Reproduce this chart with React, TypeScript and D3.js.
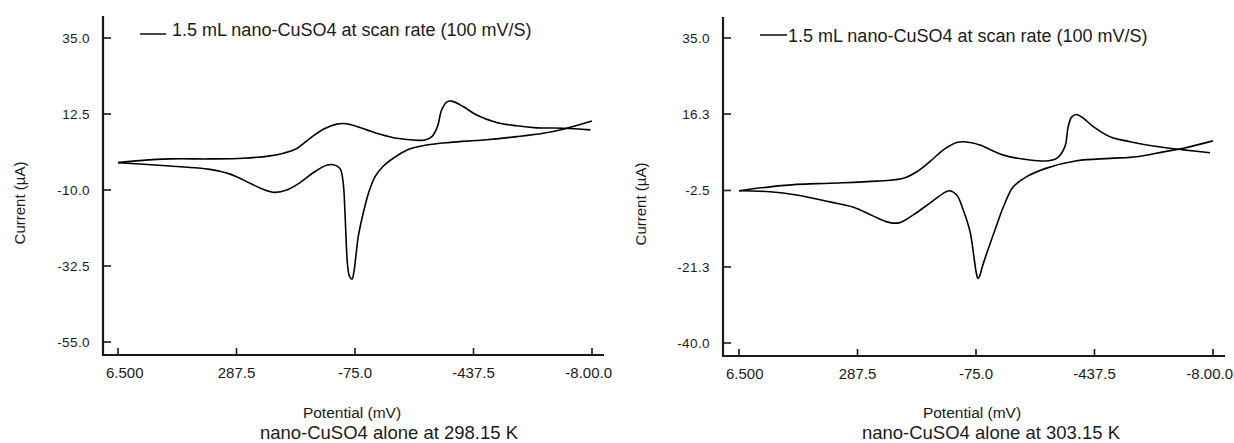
import React from "react";
import * as d3 from "d3";

// ---------- DATA ----------
const xTickValues = [650, 287.5, -75, -437.5, -800];
const xTickLabels = ["6.500", "287.5", "-75.0", "-437.5", "-8.00.0"];

const leftYTicks = [35, 12.5, -10, -32.5, -55];
const leftYTickLabels = ["35.0", "12.5", "-10.0", "-32.5", "-55.0"];
const rightYTicks = [35, 16.3, -2.5, -21.3, -40];
const rightYTickLabels = ["35.0", "16.3", "-2.5", "-21.3", "-40.0"];

// [potential (mV), current (µA)]
const leftCathodic: [number, number][] = [
  [650, -1.9], [583, -2.3], [491, -2.9], [369, -3.9], [307, -5.3], [246, -8.0],
  [206, -9.8], [170, -10.7], [134, -10.0], [93, -7.8], [53, -4.9], [12, -2.7],
  [-9, -2.5], [-29, -3.6], [-39, -8.0], [-44, -16], [-48, -25], [-52, -32],
  [-58, -35.5], [-66, -36.4], [-72, -34], [-76, -31], [-85, -23.8], [-100, -16.9],
  [-116, -11.0], [-136, -6.1], [-162, -2.9], [-192, -0.6], [-233, 1.8], [-294, 3.3],
  [-366, 4.1], [-468, 4.8], [-570, 5.8], [-651, 6.8], [-712, 8.0], [-800, 10.4],
];
const leftAnodic: [number, number][] = [
  [-795, 7.8], [-712, 8.3], [-631, 8.4], [-570, 9.0], [-508, 10.0], [-447, 12.2],
  [-406, 14.7], [-371, 16.3], [-356, 16.1], [-340, 13.7], [-327, 8.7], [-310, 5.8],
  [-289, 4.8], [-253, 4.8], [-203, 5.3], [-152, 6.5], [-111, 7.8], [-60, 9.4],
  [-39, 9.7], [-19, 9.5], [22, 8.0], [63, 5.3], [103, 2.3], [144, 0.9], [185, 0.1],
  [267, -0.6], [369, -0.8], [491, -0.8], [583, -1.3], [650, -1.9],
];
const rightCathodic: [number, number][] = [
  [650, -2.55], [555, -2.8], [474, -3.6], [372, -5.3], [300, -6.6], [239, -8.8],
  [188, -10.4], [158, -10.4], [117, -8.5], [66, -5.6], [25, -3.2], [7, -2.55],
  [-16, -3.6], [-36, -7.3], [-57, -12.7], [-69, -19], [-76, -22.8], [-81, -24.1],
  [-86, -23.6], [-93, -21.6], [-108, -17.9], [-133, -12.2], [-159, -6.5], [-189, -1.6],
  [-230, 0.9], [-291, 3.0], [-383, 4.8], [-485, 5.4], [-567, 5.8], [-648, 7.0],
  [-709, 7.9], [-800, 9.7],
];
const rightAnodic: [number, number][] = [
  [-791, 6.8], [-709, 7.5], [-628, 8.3], [-546, 9.5], [-485, 10.7], [-434, 13.2],
  [-403, 15.3], [-383, 16.2], [-368, 15.6], [-357, 13.2], [-347, 8.3], [-322, 5.4],
  [-296, 4.8], [-240, 5.0], [-159, 6.2], [-87, 8.7], [-57, 9.3], [-36, 9.5],
  [-16, 9.3], [25, 7.5], [66, 4.6], [106, 2.1], [147, 0.5], [229, -0.2],
  [372, -0.7], [474, -1.0], [555, -1.6], [650, -2.55],
];

const legendText = "1.5 mL nano-CuSO4 at scan rate (100 mV/S)";
const xAxisTitle = "Potential (mV)";
const yAxisTitle = "Current (µA)";
const leftTitle = "nano-CuSO4 alone at 298.15 K";
const rightTitle = "nano-CuSO4 alone at 303.15 K";

const FONT = "'Liberation Sans', Arial, Helvetica, sans-serif";
const INK = "#1a1a1a";

type PanelProps = {
  axisX: number; axisTop: number; axisBottom: number; axisRight: number;
  xR: [number, number];
  yDomain: [number, number]; yRange: [number, number];
  yTicks: number[]; yTickLabels: string[];
  cathodic: [number, number][]; anodic: [number, number][];
  legendLine: [number, number, number]; legendTextX: number; legendBaseline: number;
  yTitleX: number; yTitleY: number;
  xTitleX: number; titleX: number; titleBaseline: number;
  title: string;
};

function Panel(p: PanelProps) {
  const x = d3.scaleLinear().domain([650, -800]).range(p.xR);
  const y = d3.scaleLinear().domain(p.yDomain).range(p.yRange);
  const line = d3
    .line<[number, number]>()
    .x((d) => x(d[0]))
    .y((d) => y(d[1]))
    .curve(d3.curveCatmullRom.alpha(0.5));
  const last = xTickValues.length - 1;
  return (
    <g>
      {/* axes */}
      <line x1={p.axisX} x2={p.axisX} y1={p.axisTop} y2={p.axisBottom + 1} stroke={INK} strokeWidth={2.2} />
      <line x1={p.axisX - 1} x2={p.axisRight} y1={p.axisBottom} y2={p.axisBottom} stroke={INK} strokeWidth={2.2} />
      {p.yTicks.map((t, i) => (
        <g key={"y" + i}>
          <line x1={p.axisX} x2={p.axisX + 8} y1={y(t)} y2={y(t)} stroke={INK} strokeWidth={1.6} />
          <text x={p.axisX - 13} y={y(t)} dy="0.36em" textAnchor="end" fontSize={13.5}
            fontFamily={FONT} fill={INK} letterSpacing={0.4}>{p.yTickLabels[i]}</text>
        </g>
      ))}
      {xTickValues.map((t, i) => (
        <g key={"x" + i}>
          <line x1={x(t)} x2={x(t)} y1={p.axisBottom} y2={p.axisBottom - 7} stroke={INK} strokeWidth={1.6} />
          <text x={i === 0 ? p.axisX + 3 : i === last ? x(t) + 20 : x(t)} y={p.axisBottom + 23}
            textAnchor={i === 0 ? "start" : i === last ? "end" : "middle"} fontSize={15}
            fontFamily={FONT} fill={INK}>{xTickLabels[i]}</text>
        </g>
      ))}
      {/* curves */}
      <path d={line(p.cathodic) || ""} fill="none" stroke="#000" strokeWidth={1.6} />
      <path d={line(p.anodic) || ""} fill="none" stroke="#000" strokeWidth={1.6} />
      {/* legend */}
      <line x1={p.legendLine[0]} x2={p.legendLine[1]} y1={p.legendLine[2]} y2={p.legendLine[2]} stroke={INK} strokeWidth={1.6} />
      <text x={p.legendTextX} y={p.legendBaseline} fontSize={18} fontFamily={FONT} fill={INK}>{legendText}</text>
      {/* titles */}
      <text transform={`translate(${p.yTitleX},${p.yTitleY}) rotate(-90)`} dy="0.35em" textAnchor="middle"
        fontSize={15} fontFamily={FONT} fill={INK}>{yAxisTitle}</text>
      <text x={p.xTitleX} y={418} textAnchor="middle" fontSize={15.5} fontFamily={FONT} fill={INK}>{xAxisTitle}</text>
      <text x={p.titleX} y={p.titleBaseline} textAnchor="middle" fontSize={18.5} fontFamily={FONT} fill={INK}>{p.title}</text>
    </g>
  );
}

export default function App() {
  return (
    <svg width={1234} height={443} style={{ position: "absolute", left: 0, top: 0, background: "#fff" }}>
      <rect width={1234} height={443} fill="#fff" />
      <Panel
        axisX={103} axisTop={16} axisBottom={355} axisRight={604}
        xR={[118, 592]} yDomain={[-55, 35]} yRange={[342, 38]}
        yTicks={leftYTicks} yTickLabels={leftYTickLabels}
        cathodic={leftCathodic} anodic={leftAnodic}
        legendLine={[140, 166, 34]} legendTextX={172} legendBaseline={36}
        yTitleX={20} yTitleY={203} xTitleX={352} titleX={389} titleBaseline={438.5}
        title={leftTitle}
      />
      <Panel
        axisX={723} axisTop={17} axisBottom={356} axisRight={1225}
        xR={[739, 1213]} yDomain={[-40, 35]} yRange={[343, 38]}
        yTicks={rightYTicks} yTickLabels={rightYTickLabels}
        cathodic={rightCathodic} anodic={rightAnodic}
        legendLine={[760, 787, 35]} legendTextX={788} legendBaseline={41.5}
        yTitleX={641} yTitleY={204} xTitleX={972} titleX={991} titleBaseline={439}
        title={rightTitle}
      />
    </svg>
  );
}
